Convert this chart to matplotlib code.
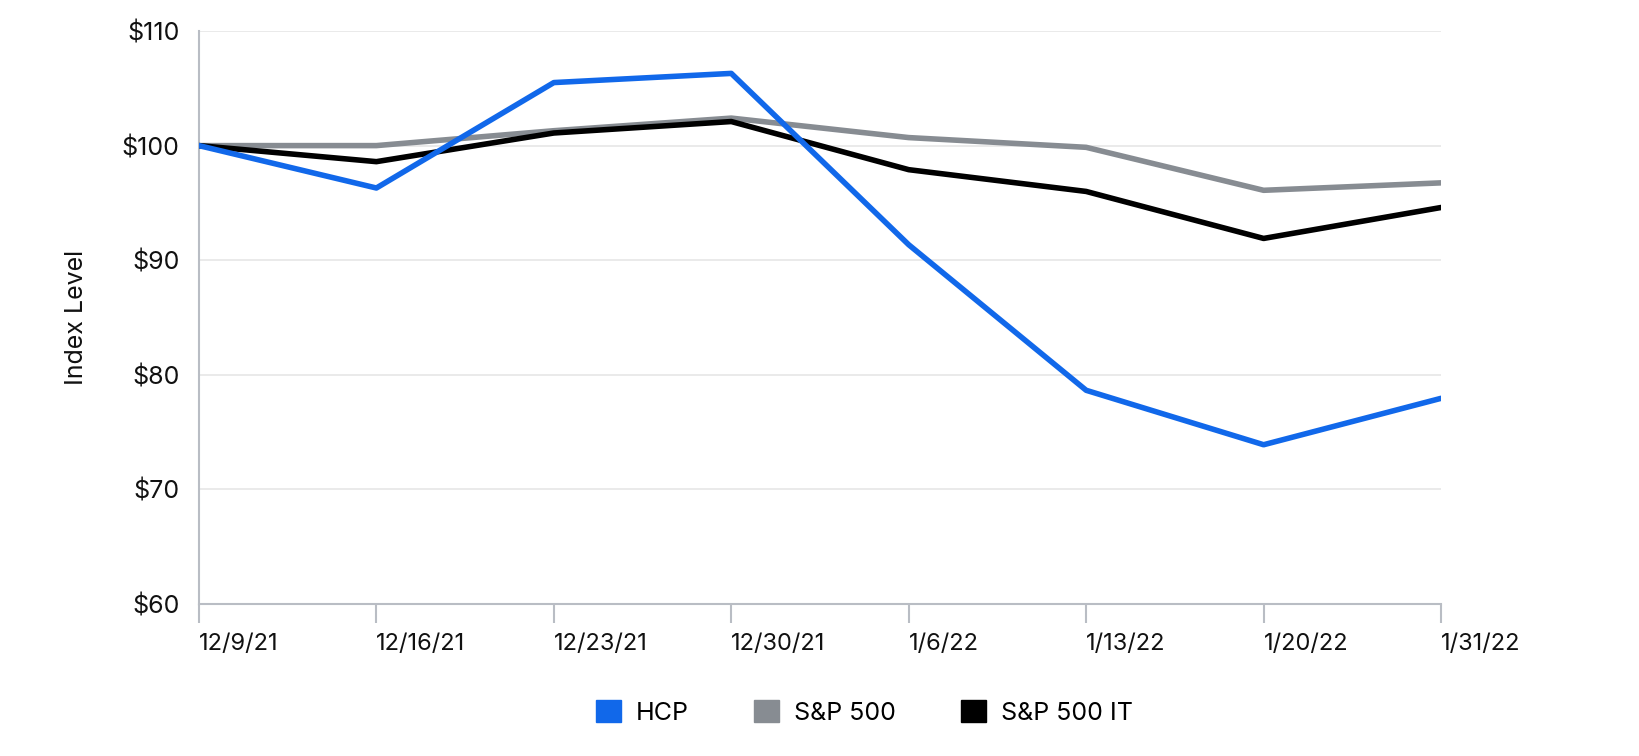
import matplotlib
matplotlib.use("Agg")
import matplotlib.pyplot as plt
import matplotlib.patches as mpatches

# Data
dates = ["12/9/21", "12/16/21", "12/23/21", "12/30/21", "1/6/22", "1/13/22", "1/20/22", "1/31/22"]
hcp = [100, 96.3, 105.5, 106.3, 91.35, 78.65, 73.9, 77.95]
sp500 = [100, 100.0, 101.3, 102.4, 100.7, 99.85, 96.1, 96.75]
sp500_it = [100, 98.6, 101.1, 102.1, 97.9, 96.0, 91.9, 94.6]
y_ticks = [60, 70, 80, 90, 100, 110]

series_names = ["HCP", "S&P 500", "S&P 500 IT"]
colors = ["#1168EA", "#878C92", "#000000"]

plt.rcParams['font.family'] = ['Inter', 'DejaVu Sans']

fig = plt.figure(figsize=(16.4, 7.56), dpi=100)
ax = fig.add_axes([0.1213, 0.201, 0.7574, 0.758])

x = list(range(len(dates)))
# gray first, black, then blue on top
ax.plot(x, sp500, color=colors[1], lw=4, solid_capstyle='round', solid_joinstyle='round', zorder=3)
ax.plot(x, sp500_it, color=colors[2], lw=4, solid_capstyle='round', solid_joinstyle='round', zorder=4)
ax.plot(x, hcp, color=colors[0], lw=4, solid_capstyle='round', solid_joinstyle='round', zorder=5)

ax.set_xlim(0, len(dates) - 1)
ax.set_ylim(60, 110)
ax.set_yticks(y_ticks)
ax.set_yticklabels(["$" + str(v) for v in y_ticks])
ax.set_xticks(x)
ax.set_xticklabels(dates, ha='left')

# Gridlines
for v in y_ticks[1:]:
    ax.axhline(v, color="#e6e6e6", lw=1.2, zorder=1)

for s in ["top", "right"]:
    ax.spines[s].set_visible(False)
for s in ["left", "bottom"]:
    ax.spines[s].set_color("#b9bdc4")
    ax.spines[s].set_linewidth(1.5)

ax.tick_params(axis='y', length=0, pad=14, labelsize=18, labelcolor="#111111")
ax.tick_params(axis='x', length=14, width=1.5, color="#b9bdc4", pad=7, labelsize=17, labelcolor="#111111")

ax.set_ylabel("Index Level", fontsize=18, color="#111111", labelpad=24)

# Legend
handles = [mpatches.Patch(color=c, label=n) for c, n in zip(colors, series_names)]
fig.legend(handles=handles, loc='center', bbox_to_anchor=(0.527, 0.058), ncol=3, frameon=False,
           fontsize=18, handlelength=1.0, handleheight=1.0, handletextpad=0.6, columnspacing=2.6)

fig.savefig("out.png", dpi=100)
